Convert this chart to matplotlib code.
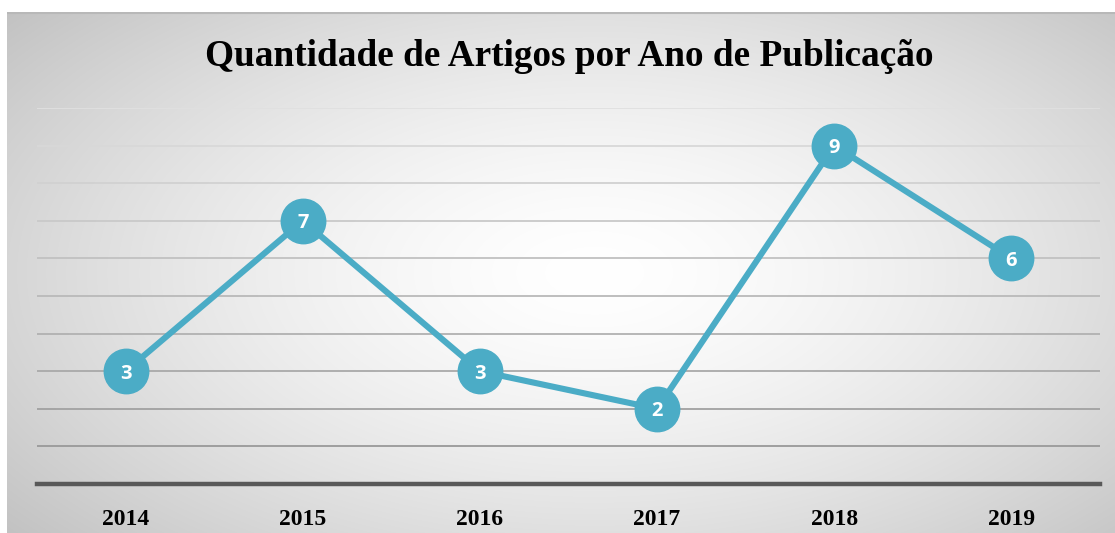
import numpy as np
import matplotlib
matplotlib.use("Agg")
import matplotlib.pyplot as plt

years = ["2014", "2015", "2016", "2017", "2018", "2019"]
counts = [3, 7, 3, 2, 9, 6]
title = "Quantidade de Artigos por Ano de Publicação"

W, H = 1115, 533
fig = plt.figure(figsize=(W / 100, H / 100), dpi=100)
fig.patch.set_facecolor("white")

# background chart box with radial gradient
box_l, box_t = 7, 12
bg = fig.add_axes([box_l / W, 0, 1 - box_l / W, 1 - box_t / H])
bw, bh = W - box_l, H - box_t
xx, yy = np.meshgrid(np.arange(bw), np.arange(bh))
cx, cy = bw * 0.53, bh * 0.50
r = np.sqrt(((xx - cx) / (bw * 0.55)) ** 2 + ((yy - cy) / (bh * 0.62)) ** 2)
val = 1 - 0.17 * np.clip(r, 0, 1.4) ** 1.5
val = np.clip(val, 0, 1)
img = np.dstack([val, val, val])
bg.imshow(img, aspect="auto", extent=[0, bw, bh, 0], interpolation="bilinear")
bg.set_xlim(0, bw)
bg.set_ylim(bh, 0)
bg.axis("off")
bg.axhline(0.5, color="#b8b8b8", lw=1.5)

# plot axes
left, right = 37 / W, 1100 / W
bottom = (H - 484) / H
top = (H - 108) / H
ax = fig.add_axes([left, bottom, right - left, top - bottom])
ax.patch.set_alpha(0)
x = np.arange(len(years))
ax.set_xlim(-0.5, len(years) - 0.5)
ax.set_ylim(0, 10)

ticks = np.arange(1, 11)
for i, t in enumerate(ticks):
    g = 0.60 + 0.28 * (i / (len(ticks) - 1))
    ax.axhline(t, color=(g, g, g), lw=1.3, zorder=1)
ax.axhline(0, color="#595959", lw=3.2, zorder=2, clip_on=False)

for s in ax.spines.values():
    s.set_visible(False)
ax.set_yticks([])
ax.set_xticks(x)
ax.set_xticklabels(years, fontfamily="Liberation Serif", fontweight="bold", fontsize=17)
ax.tick_params(axis="x", length=0, pad=18)

col = "#4BACC6"
ax.plot(x, counts, color=col, lw=4.4, zorder=3, solid_capstyle="round",
        marker="o", markersize=32, markerfacecolor=col, markeredgecolor=col, clip_on=False)
for xi, v in zip(x, counts):
    ax.text(xi, v, str(v), color="white", ha="center", va="center_baseline",
            fontsize=14.5, fontweight="bold", fontfamily="Open Sans", zorder=4)

fig.text(569 / W, 1 - 56 / H, title, ha="center", va="center",
         fontfamily="Liberation Serif", fontweight="bold", fontsize=26.8)

fig.savefig("out.png", dpi=100)
